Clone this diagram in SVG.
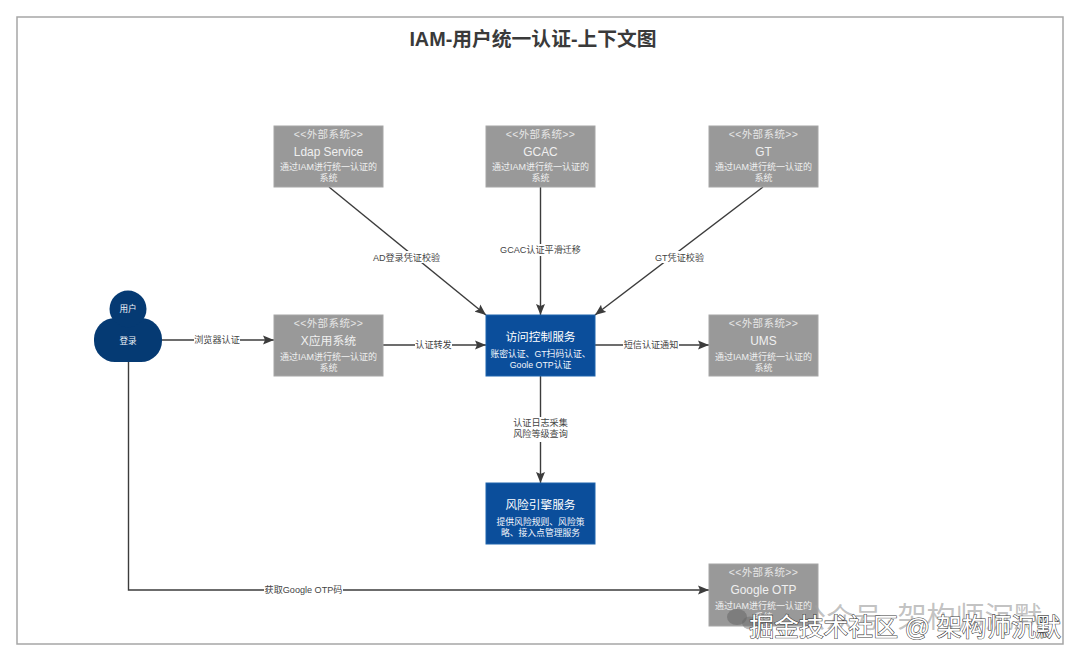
<svg xmlns="http://www.w3.org/2000/svg" width="1080" height="661" viewBox="0 0 1080 661">
<style>
text{font-family:"Liberation Sans","Noto Sans CJK SC",sans-serif;text-anchor:middle}
.ext{fill:#999999;stroke:#a6a6a6;stroke-width:1}
.svc{fill:#0b4e9b;stroke:#1f64ad;stroke-width:1}
.st{fill:#e6e6e6;font-size:10.5px;letter-spacing:.4px}
.nm{fill:#f0f0f0;font-size:11.9px}
.ds{fill:#efefef;font-size:9px}
.nw{fill:#fff;font-size:11.7px}
.dw{fill:#f4f7fb;font-size:8.8px}
.cn{fill:none;stroke:#3c3c3c;stroke-width:1.4;marker-end:url(#ah)}
.lb{fill:#444;font-size:9.1px}
.lbg{fill:#fff}
.per{fill:#053a73}
</style>
<defs>
<marker id="ah" markerUnits="userSpaceOnUse" markerWidth="12" markerHeight="10" refX="11" refY="5" orient="auto"><path d="M0 0.500L11 5L0 9.500L2 5Z" fill="#3c3c3c"/></marker>
</defs>
<rect width="1080" height="661" fill="#fff"/>
<rect x="17" y="17" width="1046" height="627" fill="#fff" stroke="#a6a6a6" stroke-width="1.5"/>
<text x="533" y="46" font-size="19.800" font-weight="700" fill="#3a3a3a">IAM-用户统一认证-上下文图</text>

<g id="connectors">
<path class="cn" d="M329 187L486 315"/>
<path class="cn" d="M540.500 187V315"/>
<path class="cn" d="M763 187L595 315"/>
<path class="cn" d="M162 340H274"/>
<path class="cn" d="M383 345H486"/>
<path class="cn" d="M595 345H709"/>
<path class="cn" d="M540.500 376V483"/>
<path class="cn" d="M128.500 362V590H709"/>
<rect class="lbg" x="372" y="251" width="69" height="12"/><text class="lb" x="406.500" y="260.500">AD登录凭证校验</text>
<rect class="lbg" x="500" y="244" width="81" height="12"/><text class="lb" x="540.500" y="253">GCAC认证平滑迁移</text>
<rect class="lbg" x="654" y="251" width="51" height="12"/><text class="lb" x="679.500" y="260.500">GT凭证校验</text>
<rect class="lbg" x="194" y="334" width="46" height="12"/><text class="lb" x="217" y="343">浏览器认证</text>
<rect class="lbg" x="415" y="339" width="37" height="12"/><text class="lb" x="433.500" y="348">认证转发</text>
<rect class="lbg" x="623" y="339" width="56" height="12"/><text class="lb" x="651" y="348">短信认证通知</text>
<rect class="lbg" x="512" y="417" width="58" height="25"/><text class="lb" x="540.500" y="426">认证日志采集</text><text class="lb" x="540.500" y="437">风险等级查询</text>
<rect class="lbg" x="264" y="584" width="79" height="12"/><text class="lb" x="303.500" y="593">获取Google OTP码</text>
</g>

<g id="user">
<rect class="per" x="94" y="318" width="68" height="44" rx="21" ry="21"/>
<circle class="per" cx="128" cy="309" r="18.500"/>
<text x="128" y="312" font-size="8.600" fill="#eef3f8">用户</text>
<text x="128" y="343.500" font-size="8.600" fill="#eef3f8">登录</text>
</g>

<g id="ldap"><rect class="ext" x="274" y="126" width="109" height="61"/><text class="st" x="328.500" y="138">&lt;&lt;外部系统&gt;&gt;</text><text class="nm" x="328.500" y="156">Ldap Service</text><text class="ds" x="328.500" y="170">通过IAM进行统一认证的</text><text class="ds" x="328.500" y="181">系统</text></g>
<g id="gcac"><rect class="ext" x="486" y="126" width="109" height="61"/><text class="st" x="540.500" y="138">&lt;&lt;外部系统&gt;&gt;</text><text class="nm" x="540.500" y="156">GCAC</text><text class="ds" x="540.500" y="170">通过IAM进行统一认证的</text><text class="ds" x="540.500" y="181">系统</text></g>
<g id="gt"><rect class="ext" x="709" y="126" width="109" height="61"/><text class="st" x="763.500" y="138">&lt;&lt;外部系统&gt;&gt;</text><text class="nm" x="763.500" y="156">GT</text><text class="ds" x="763.500" y="170">通过IAM进行统一认证的</text><text class="ds" x="763.500" y="181">系统</text></g>
<g id="xapp"><rect class="ext" x="274" y="315" width="109" height="61"/><text class="st" x="328.500" y="327">&lt;&lt;外部系统&gt;&gt;</text><text class="nm" x="328.500" y="345">X应用系统</text><text class="ds" x="328.500" y="359.500">通过IAM进行统一认证的</text><text class="ds" x="328.500" y="370.500">系统</text></g>
<g id="access"><rect class="svc" x="486" y="315" width="109" height="61"/><text class="nw" x="540.500" y="341">访问控制服务</text><text class="dw" x="540.500" y="357">账密认证、GT扫码认证、</text><text class="dw" x="540.500" y="368">Goole OTP认证</text></g>
<g id="ums"><rect class="ext" x="709" y="315" width="109" height="61"/><text class="st" x="763.500" y="327">&lt;&lt;外部系统&gt;&gt;</text><text class="nm" x="763.500" y="345">UMS</text><text class="ds" x="763.500" y="359.500">通过IAM进行统一认证的</text><text class="ds" x="763.500" y="370.500">系统</text></g>
<g id="risk"><rect class="svc" x="486" y="483" width="109" height="61"/><text class="nw" x="540.500" y="509">风险引擎服务</text><text class="dw" x="540.500" y="525">提供风险规则、风险策</text><text class="dw" x="540.500" y="536">略、接入点管理服务</text></g>
<g id="gotp"><rect class="ext" x="709" y="564" width="109" height="62"/><text class="st" x="763.500" y="576">&lt;&lt;外部系统&gt;&gt;</text><text class="nm" x="763.500" y="594">Google OTP</text><text class="ds" x="763.500" y="608.500">通过IAM进行统一认证的</text><text class="ds" x="763.500" y="619.500">系统</text></g>

<g id="watermark">
<ellipse cx="737" cy="617" rx="10" ry="8" fill="#666" fill-opacity=".55"/>
<ellipse cx="750" cy="623" rx="8" ry="6.500" fill="#666" fill-opacity=".45"/>
<text x="840" y="628" font-size="28" fill="#a0a0a0" fill-opacity=".65">公众号</text>
<text x="889" y="628" font-size="22" fill="#a0a0a0" fill-opacity=".65">·</text>
<text x="970" y="628" font-size="29" fill="#a0a0a0" fill-opacity=".65">架构师沉默</text>
<text x="905" y="636" font-size="24.800" fill="#fff" stroke="#3c3c3c" stroke-width="1.100" paint-order="stroke">掘金技术社区 @ 架构师沉默</text>
</g>
</svg>
